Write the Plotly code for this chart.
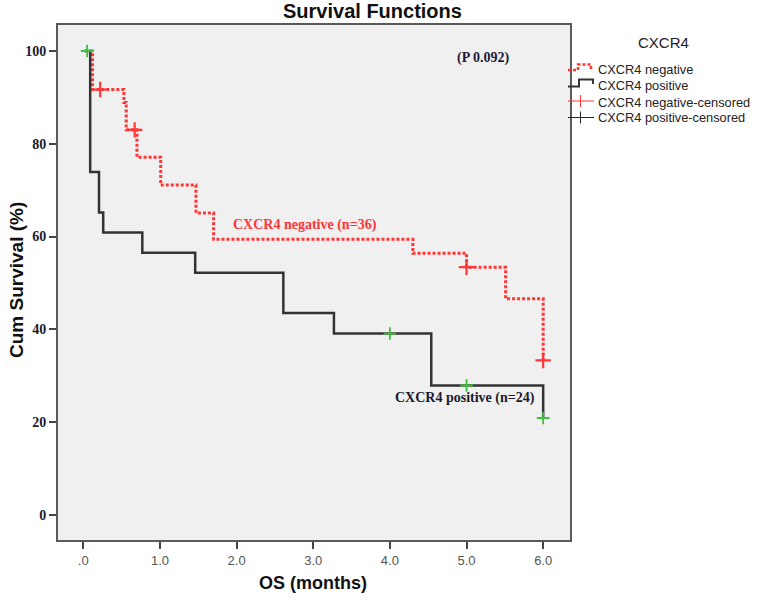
import plotly.graph_objects as go

# ---- data ----
neg_time = [0.02, 0.12, 0.53, 0.56, 0.70, 1.01, 1.47, 1.70, 4.30, 5.00, 5.51, 6.00]
neg_surv = [100, 91.7, 88.9, 83.0, 77.1, 71.1, 65.1, 59.4, 56.4, 53.4, 46.6, 33.3]
neg_cens_time = [0.22, 0.67, 5.00, 6.00]
neg_cens_surv = [91.7, 83.0, 53.4, 33.3]

pos_time = [0.02, 0.09, 0.205, 0.26, 0.77, 1.46, 2.61, 3.27, 4.54, 6.00]
pos_surv = [100, 73.9, 65.2, 60.9, 56.5, 52.2, 43.5, 39.1, 27.9, 20.9]
pos_cens_time = [0.05, 4.00, 5.00, 6.00]
pos_cens_surv = [100, 39.1, 27.9, 20.9]

x_ticks = [0, 1, 2, 3, 4, 5, 6]
x_ticktext = [".0", "1.0", "2.0", "3.0", "4.0", "5.0", "6.0"]
y_ticks = [0, 20, 40, 60, 80, 100]

legend_labels = ["CXCR4 negative", "CXCR4 positive",
                 "CXCR4 negative-censored", "CXCR4 positive-censored"]

RED = "#ff3636"
BLK = "#333333"
GRN = "#3cbf3c"
SANS = "Liberation Sans, Arial, sans-serif"
SERIF = "Liberation Serif, Times New Roman, serif"

W, H = 758, 600
# plot area in pixels
L, R, T, B = 58, 570, 25, 540


def px(x):
    return (x - L) / (R - L)


def py(y):
    return (B - y) / (B - T)


fig = go.Figure()
fig.add_trace(go.Scatter(x=neg_time, y=neg_surv, mode="lines", line_shape="hv",
                         line=dict(color=RED, width=3, dash="3px,2px"),
                         showlegend=False))
fig.add_trace(go.Scatter(x=pos_time, y=pos_surv, mode="lines", line_shape="hv",
                         line=dict(color=BLK, width=2.5), showlegend=False))
fig.add_trace(go.Scatter(x=neg_cens_time, y=neg_cens_surv, mode="markers",
                         marker=dict(symbol="cross-thin", size=11,
                                     line=dict(color=RED, width=2.2)),
                         showlegend=False))
fig.add_trace(go.Scatter(x=pos_cens_time, y=pos_cens_surv, mode="markers",
                         marker=dict(symbol="cross-thin", size=9,
                                     line=dict(color=GRN, width=1.8)),
                         showlegend=False))

shapes = []
annotations = []


def path(points):
    s = ""
    for i, (x, y) in enumerate(points):
        s += ("M" if i == 0 else "L") + f"{px(x):.5f},{py(y):.5f} "
    return s.strip()


# manual legend
shapes.append(dict(type="path", xref="paper", yref="paper",
                   path=path([(568, 70), (578, 70), (578, 64.5), (591, 64.5), (591, 69)]),
                   line=dict(color=RED, width=2.5, dash="3px,2px")))
shapes.append(dict(type="path", xref="paper", yref="paper",
                   path=path([(568, 86.5), (579, 86.5), (579, 79.5), (593, 79.5), (593, 84)]),
                   line=dict(color=BLK, width=2)))
shapes.append(dict(type="line", xref="paper", yref="paper",
                   x0=px(568), x1=px(594), y0=py(101), y1=py(101),
                   line=dict(color=RED, width=1)))
shapes.append(dict(type="line", xref="paper", yref="paper",
                   x0=px(580.5), x1=px(580.5), y0=py(95), y1=py(107),
                   line=dict(color=RED, width=1)))
shapes.append(dict(type="line", xref="paper", yref="paper",
                   x0=px(568), x1=px(594), y0=py(117.5), y1=py(117.5),
                   line=dict(color="#222", width=1)))
shapes.append(dict(type="line", xref="paper", yref="paper",
                   x0=px(580.5), x1=px(580.5), y0=py(111.5), y1=py(123.5),
                   line=dict(color="#222", width=1)))

annotations.append(dict(xref="paper", yref="paper", x=px(663), y=py(42),
                        text="CXCR4", showarrow=False, xanchor="center", yanchor="middle",
                        font=dict(family=SANS, size=15, color="#222")))
for lab, yy in zip(legend_labels, [69, 85.5, 102, 118]):
    annotations.append(dict(xref="paper", yref="paper", x=px(596), y=py(yy),
                            text=lab, showarrow=False, xanchor="left", yanchor="middle",
                            font=dict(family=SANS, size=12.8, color="#222")))

# in-plot text
annotations.append(dict(x=1.93, y=62.6, xref="x", yref="y", text="<b>CXCR4 negative (n=36)</b>",
                        showarrow=False, xanchor="left", yanchor="middle",
                        font=dict(family=SERIF, size=14, color=RED)))
annotations.append(dict(x=4.035, y=25.2, xref="x", yref="y", text="<b>CXCR4 positive (n=24)</b>",
                        showarrow=False, xanchor="left", yanchor="middle",
                        font=dict(family=SERIF, size=14, color="#1a1a2a")))
annotations.append(dict(x=5.21, y=98.5, xref="x", yref="y", text="<b>(P 0.092)</b>",
                        showarrow=False, xanchor="center", yanchor="middle",
                        font=dict(family=SERIF, size=14, color="#1a1a3a")))

# titles
annotations.append(dict(xref="paper", yref="paper", x=px(372), y=py(11),
                        text="<b>Survival Functions</b>", showarrow=False,
                        xanchor="center", yanchor="middle",
                        font=dict(family=SANS, size=20, color="#111")))
annotations.append(dict(xref="paper", yref="paper", x=px(313), y=py(583),
                        text="<b>OS (months)</b>", showarrow=False,
                        xanchor="center", yanchor="middle",
                        font=dict(family=SANS, size=18, color="#111")))
annotations.append(dict(xref="paper", yref="paper", x=px(16), y=py(280),
                        text="<b>Cum Survival (%)</b>", showarrow=False, textangle=-90,
                        xanchor="center", yanchor="middle",
                        font=dict(family=SANS, size=19, color="#111")))

fig.update_layout(
    width=W, height=H,
    margin=dict(l=L, r=W - R, t=T, b=H - B),
    paper_bgcolor="white", plot_bgcolor="#f0f0f0",
    shapes=shapes, annotations=annotations,
    showlegend=False,
    xaxis=dict(range=[-0.33, 6.35], tickvals=x_ticks, ticktext=x_ticktext,
               showgrid=False, zeroline=False, showline=True, mirror=True,
               linecolor="#5a5a5a", linewidth=2, ticks="outside", ticklen=7,
               tickwidth=1.5, tickcolor="#444", automargin=False,
               tickfont=dict(family=SANS, size=13, color="#555")),
    yaxis=dict(range=[-5.4, 105.6], tickvals=y_ticks,
               ticktext=[f"<b>{v}</b>" for v in y_ticks],
               showgrid=False, zeroline=False, showline=True, mirror=True,
               linecolor="#5a5a5a", linewidth=2, ticks="outside", ticklen=7,
               tickwidth=1.5, tickcolor="#444", automargin=False,
               tickfont=dict(family=SERIF, size=14, color="#1a1a2a")),
)

fig.write_html("out.html", config={"displayModeBar": False},
               post_script="document.body.style.margin='0';document.body.style.overflow='hidden';")
